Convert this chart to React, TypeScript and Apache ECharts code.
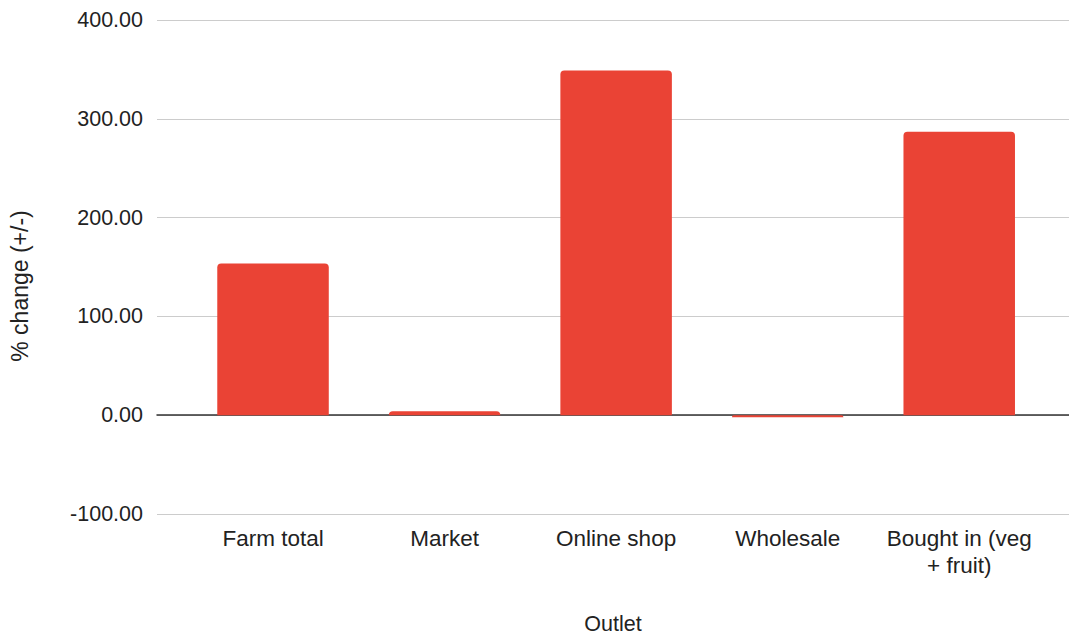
import React, { useEffect, useRef } from "react";
import * as echarts from "echarts";

const categories = ["Farm total", "Market", "Online shop", "Wholesale", "Bought in (veg\n+ fruit)"];
const values = [153.5, 4, 349, -2, 287];
const yTicks = { min: -100, max: 400, interval: 100 };

export default function App() {
  const ref = useRef<HTMLDivElement>(null);
  useEffect(() => {
    const chart = echarts.init(ref.current!, undefined, { renderer: "svg" });
    const font = "'Liberation Sans', Arial, sans-serif";
    const txt = "#222";
    chart.setOption({
      animation: false,
      textStyle: { fontFamily: font },
      grid: [
        { left: 157, right: 0, top: 20, bottom: 122, containLabel: false, outerBoundsMode: "none" },
        { left: 187.25, right: 24, top: 20, bottom: 122, containLabel: false, outerBoundsMode: "none" },
      ],
      graphic: [
        {
          type: "text",
          x: 20,
          y: 286,
          rotation: Math.PI / 2,
          style: {
            text: "% change (+/-)",
            fontSize: 23,
            fontFamily: font,
            fill: txt,
            align: "center",
            verticalAlign: "middle",
          },
        },
      ],
      xAxis: [
        {
          type: "category",
          gridIndex: 0,
          data: [""],
          axisLine: { show: true, onZero: true, lineStyle: { color: "#333", width: 1.5 } },
          axisTick: { show: false },
          axisLabel: { show: false },
          name: "Outlet",
          nameLocation: "middle",
          nameGap: 99.5,
          nameTextStyle: { fontSize: 21.5, color: txt, fontFamily: font, lineHeight: 20 },
          z: 3,
        },
        {
          type: "category",
          gridIndex: 1,
          data: categories,
          axisLine: { show: false, onZero: false },
          axisTick: { show: false },
          axisLabel: { fontSize: 22.5, color: txt, margin: 11, lineHeight: 27, fontFamily: font, interval: 0 },
        },
      ],
      yAxis: [
        {
          type: "value",
          gridIndex: 0,
          min: yTicks.min,
          max: yTicks.max,
          interval: yTicks.interval,
          axisLabel: {
            fontSize: 21.5,
            color: txt,
            margin: 14,
            fontFamily: font,
            formatter: (v: number) => v.toFixed(2),
          },
          axisLine: { show: false },
          axisTick: { show: false },
          splitLine: { lineStyle: { color: "#cccccc", width: 1 } },
        },
        {
          type: "value",
          gridIndex: 1,
          min: yTicks.min,
          max: yTicks.max,
          interval: yTicks.interval,
          show: false,
          splitLine: { show: false },
        },
      ],
      series: [
        {
          type: "bar",
          xAxisIndex: 1,
          yAxisIndex: 1,
          data: values,
          barCategoryGap: "35%",
          itemStyle: { color: "#ea4335", borderRadius: [4, 4, 0, 0] },
          z: 4,
        },
      ],
    });
    return () => chart.dispose();
  }, []);
  return (
    <div
      ref={ref}
      style={{ position: "absolute", left: 0, top: 0, width: 1069, height: 636 }}
    />
  );
}
